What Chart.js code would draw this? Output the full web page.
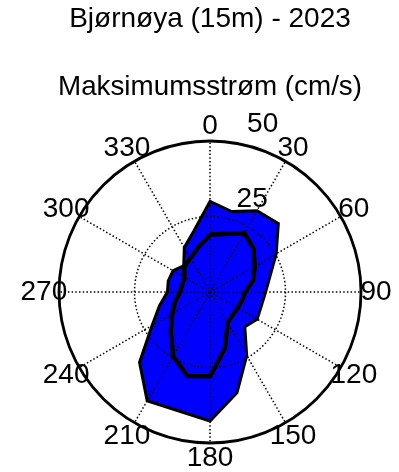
<!DOCTYPE html>
<html>
<head>
<meta charset="utf-8">
<script src="https://cdn.jsdelivr.net/npm/chart.js@4/dist/chart.umd.min.js"></script>
<style>
  html, body { margin: 0; padding: 0; background: #fff; }
  canvas { display: block; }
</style>
</head>
<body>
<canvas id="rose" width="399" height="472"></canvas>
<script>
// Current direction sectors (degrees, clockwise from north)
const directions = [0, 15, 30, 45, 60, 75, 90, 105, 120, 135, 150, 165,
                    180, 195, 210, 225, 240, 255, 270, 285, 300, 315, 330, 345];
// Maximum current speed per sector (cm/s) - blue filled area
const maxSpeed = [30.0, 27.6, 31.1, 32.0, 25.3, 20.6, 18.4, 17.6, 18.0, 16.3, 24.3, 34.5,
                  42.7, 40.7, 41.6, 33.0, 22.1, 17.3, 14.1, 14.3, 14.1, 12.3, 17.0, 20.8];
// Mean current speed per sector (cm/s) - thick black contour
const meanSpeed = [19.0, 19.9, 22.6, 20.3, 17.1, 14.7, 11.6, 10.9, 10.5, 10.6, 11.7, 19.1,
                   27.9, 28.8, 24.5, 18.4, 14.5, 12.0, 10.0, 9.5, 9.8, 12.0, 13.0, 15.3];
// Axis labelling
const angleTicks = [0, 30, 60, 90, 120, 150, 180, 210, 240, 270, 300, 330];
const radialTicks = [25, 50];
const rMax = 50;

const FONT = '"Liberation Sans", Arial, Helvetica, sans-serif';

// Draws the compass angle labels around the rim and the speed ring labels
const polarLabels = {
  id: 'polarLabels',
  afterDraw(chart) {
    const r = chart.scales.r;
    const ctx = chart.ctx;
    const rim = r.getDistanceFromCenterForValue(rMax);
    ctx.save();
    ctx.fillStyle = '#000';
    ctx.font = '28px ' + FONT;
    ctx.textAlign = 'center';
    ctx.textBaseline = 'middle';
    directions.forEach((d, i) => {
      if (!angleTicks.includes(d)) return;
      const p = r.getPointPosition(i, rim * 1.1);
      ctx.fillText(String(d), p.x, p.y);
    });
    // ring values sit just outside each ring, 8 degrees east of north
    ctx.textAlign = 'left';
    ctx.textBaseline = 'bottom';
    const tilt = 8 * Math.PI / 180;
    radialTicks.forEach(v => {
      const p = r.getPointPosition(0, r.getDistanceFromCenterForValue(v + 25 / 20), tilt);
      ctx.fillText('  ' + v, p.x, p.y);
    });
    ctx.restore();
  }
};

new Chart(document.getElementById('rose'), {
  type: 'radar',
  data: {
    labels: directions.map(String),
    datasets: [
      {
        label: 'Middel',
        data: meanSpeed,
        fill: false,
        borderColor: '#000',
        borderWidth: 4.5,
        backgroundColor: 'rgba(0,0,0,0)',
        pointRadius: 0,
        order: 0
      },
      {
        label: 'Maks',
        data: maxSpeed,
        fill: 'origin',
        borderColor: '#000',
        borderWidth: 3,
        backgroundColor: '#0000ff',
        pointRadius: 0,
        order: 1
      }
    ]
  },
  options: {
    responsive: false,
    animation: false,
    devicePixelRatio: 1,
    layout: { padding: { left: 58, right: 37, top: 0, bottom: 28 } },
    elements: { line: { tension: 0, borderJoinStyle: 'miter' } },
    scales: {
      r: {
        min: 0,
        max: rMax,
        startAngle: 0,
        ticks: { display: false, stepSize: 25 },
        pointLabels: { display: false },
        grid: {
          z: 1,
          circular: true,
          color: '#000',
          lineWidth: c => (c.tick && c.tick.value === rMax ? 2.8 : 1.5)
        },
        border: {
          dash: c => (c.tick && c.tick.value === rMax ? [] : [1.5, 2.2])
        },
        angleLines: {
          display: true,
          color: '#000',
          lineWidth: c => (angleTicks.includes(directions[c.index]) ? 1.5 : 0),
          borderDash: [1.5, 2.2]
        }
      }
    },
    plugins: {
      legend: { display: false },
      tooltip: { enabled: false },
      title: {
        display: true,
        text: 'Bjørnøya (15m) - 2023',
        color: '#000',
        font: { family: FONT, size: 28, weight: 'normal', lineHeight: 1.2 },
        padding: { top: 2, bottom: 17 }
      },
      subtitle: {
        display: true,
        text: 'Maksimumsstrøm (cm/s)',
        color: '#000',
        font: { family: FONT, size: 28, weight: 'normal', lineHeight: 1.2 },
        padding: { top: 18, bottom: 36 }
      }
    }
  },
  plugins: [polarLabels]
});
</script>
</body>
</html>
